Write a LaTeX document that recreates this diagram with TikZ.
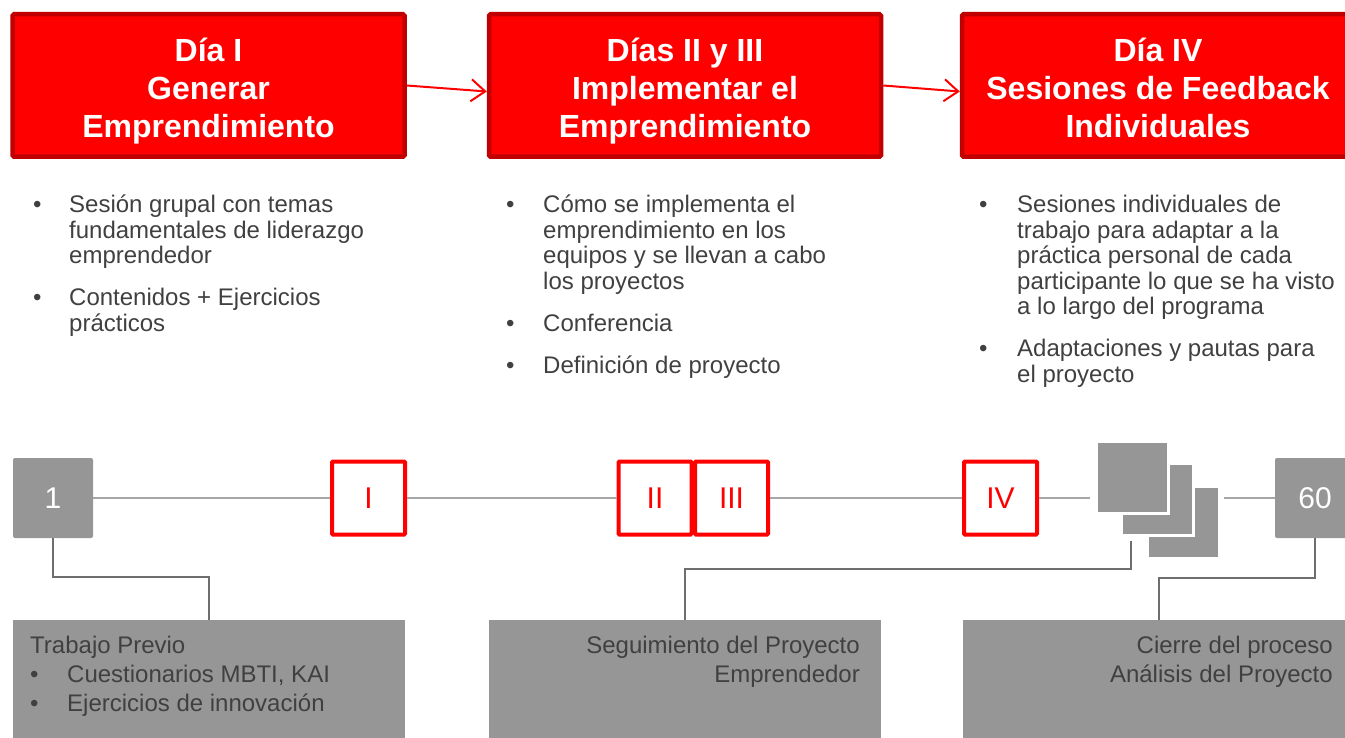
\documentclass[tikz,border=0pt]{standalone}
\usepackage{fontspec}
\setmainfont{Liberation Sans}
\usetikzlibrary{calc,arrows.meta}

\definecolor{boxred}{HTML}{FF0000}
\definecolor{edgered}{HTML}{C00000}
\definecolor{boxgray}{HTML}{969696}
\definecolor{textgray}{HTML}{404040}
\definecolor{linegray}{HTML}{A6A6A6}
\definecolor{linkgray}{HTML}{6E6E6E}

% struts so that every title sits at the same height
\newcommand{\titlestrut}{\rule{0pt}{39pt}}
\newcommand{\footstrut}{\rule[-11pt]{0pt}{11pt}}

\tikzset{
  daybox/.style={fill=boxred, draw=edgered, line width=4.5pt, rounded corners=1.5pt,
    minimum width=392pt, minimum height=142.5pt, text=white, align=center,
    font=\fontsize{32}{38}\selectfont\bfseries},
  flow/.style={draw=boxred, line width=2pt, -{Straight Barb[length=14pt,width=22pt]}},
  daymark/.style={draw=boxred, fill=white, line width=4pt, minimum size=73pt, inner sep=0pt,
    rounded corners=1pt, text=boxred, font=\fontsize{30}{36}\selectfont},
  graymark/.style={fill=boxgray, minimum size=80pt, inner sep=0pt, rounded corners=2pt,
    text=white, font=\fontsize{30}{36}\selectfont},
  sheet/.style={fill=boxgray, draw=white, line width=3pt, minimum size=72pt, inner sep=0pt},
  notebox/.style={fill=boxgray, minimum width=392pt, minimum height=120pt, inner sep=0pt},
  notetext/.style={text=textgray, inner sep=0pt, font=\fontsize{24}{29}\selectfont},
  bullets/.style={text=textgray, inner sep=0pt, anchor=base west, font=\fontsize{24}{25.5}\selectfont},
  axis/.style={draw=linegray, line width=2pt},
  link/.style={draw=linkgray, line width=2pt},
}

\begin{document}
\begin{tikzpicture}[x=1pt,y=-1pt]
\useasboundingbox (0,0) rectangle (1345,738);

% The three days at the top
\node[daybox] (day_one) at (208.5,85.5) {\titlestrut Día I\\Generar\\Emprendimiento\footstrut};
\node[daybox] (day_two) at (685,85.5) {\titlestrut Días II y III\\Implementar el\\Emprendimiento\footstrut};
\node[daybox] (day_four) at (1158,85.5) {\titlestrut Día IV\\Sesiones de Feedback\\Individuales\footstrut};
\draw[flow] (day_one.east) -- ($ (day_two.west) + (0,6) $);
\draw[flow] (day_two.east) -- ($ (day_four.west) + (0,6) $);

% What happens on each day
\node[bullets] (notes_one) at (33,213) {\begin{tabular}[t]{@{}p{36pt}@{}l@{}}
\textbullet & Sesión grupal con temas\\
 & fundamentales de liderazgo\\
 & emprendedor\\[16.5pt]
\textbullet & Contenidos + Ejercicios\\
 & prácticos
\end{tabular}};
\node[bullets] (notes_two) at (506,213) {\begin{tabular}[t]{@{}p{37pt}@{}l@{}}
\textbullet & Cómo se implementa el\\
 & emprendimiento en los\\
 & equipos y se llevan a cabo\\
 & los proyectos\\[16.5pt]
\textbullet & Conferencia\\[16.5pt]
\textbullet & Definición de proyecto
\end{tabular}};
\node[bullets] (notes_four) at (979,213) {\begin{tabular}[t]{@{}p{38pt}@{}l@{}}
\textbullet & Sesiones individuales de\\
 & trabajo para adaptar a la\\
 & práctica personal de cada\\
 & participante lo que se ha visto\\
 & a lo largo del programa\\[16.5pt]
\textbullet & Adaptaciones y pautas para\\
 & el proyecto
\end{tabular}};

% Timeline, day 1 to day 60
\node[graymark] (tl_one) at (53,498) {1};
\node[daymark] (tl_i) at (368.5,498) {I};
\node[daymark] (tl_ii) at (655,498) {II};
\node[daymark] (tl_iii) at (731.5,498) {III};
\node[daymark] (tl_iv) at (1000.5,498) {IV};
\node[sheet] (sheet_three) at (1183,522) {};
\node[sheet] (sheet_two) at (1157.5,499) {};
\node[sheet] (sheet_one) at (1132,477) {};
\node[graymark] (tl_sixty) at (1315,498) {60};

\coordinate (stack_in) at (1090,498);
\coordinate (stack_out) at (1224,498);
\draw[axis] (tl_one) -- (tl_i);
\draw[axis] (tl_i) -- (tl_ii);
\draw[axis] (tl_iii) -- (tl_iv);
\draw[axis] (tl_iv) -- (stack_in);
\draw[axis] (stack_out) -- (tl_sixty);

% Gray notes below the timeline
\node[notebox] (prev_box) at (209,680) {};
\node[notebox] (track_box) at (685,680) {};
\node[notebox] (close_box) at (1158.5,680) {};

\coordinate (stack_foot) at ($ (sheet_two.south west) + (10.5,4) $);
\draw[link] (tl_one.south) -- ++(0,39) -| (prev_box.north);
\draw[link] (stack_foot) -- ++(0,28) -| (track_box.north);
\draw[link] (tl_sixty.south) -- ++(0,40) -| (close_box.north);

\node[notetext, anchor=base west] (prev_text) at (30,653) {\begin{tabular}[t]{@{}p{37pt}@{}l@{}}
\multicolumn{2}{@{}l@{}}{Trabajo Previo}\\
\textbullet & Cuestionarios MBTI, KAI\\
\textbullet & Ejercicios de innovación
\end{tabular}};
\node[notetext, anchor=base east] (track_text) at (860,653) {\begin{tabular}[t]{@{}r@{}}
Seguimiento del Proyecto\\
Emprendedor
\end{tabular}};
\node[notetext, anchor=base east] (close_text) at (1333,653) {\begin{tabular}[t]{@{}r@{}}
Cierre del proceso\\
Análisis del Proyecto
\end{tabular}};
\end{tikzpicture}
\end{document}
